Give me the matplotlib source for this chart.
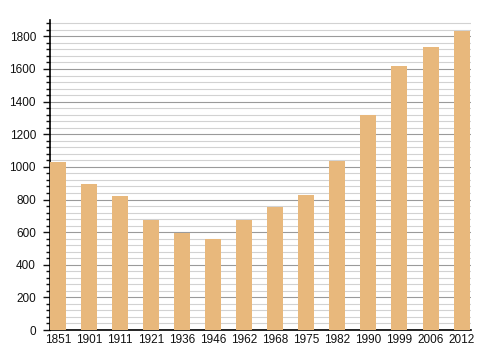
import matplotlib
matplotlib.use("Agg")
import matplotlib.pyplot as plt
from matplotlib.ticker import MultipleLocator

years = ["1851", "1901", "1911", "1921", "1936", "1946", "1962", "1968", "1975", "1982", "1990", "1999", "2006", "2012"]
population = [1028, 892, 824, 676, 592, 558, 676, 757, 830, 1034, 1320, 1616, 1732, 1830]

plt.rcParams['font.family'] = ['Liberation Sans', 'DejaVu Sans']

fig = plt.figure(figsize=(4.8, 3.6), dpi=100)
ax = fig.add_axes([0.104, 0.0833, 0.877, 0.861])

x = list(range(len(years)))
ax.bar(x, population, width=0.515, color='#e8b87c', zorder=3)

ax.set_xlim(-0.26, 13.3)
ax.set_ylim(0, 1900)
ax.yaxis.set_major_locator(MultipleLocator(200))
ax.yaxis.set_minor_locator(MultipleLocator(40))
ax.grid(axis='y', which='major', color='#9a9a9a', linewidth=0.8, zorder=0)
ax.grid(axis='y', which='minor', color='#d2d2d2', linewidth=0.8, zorder=0)
ax.set_axisbelow(True)

ax.set_xticks(x)
ax.set_xticklabels(years)
ax.tick_params(axis='x', length=0, labelsize=8.5, pad=3, colors='#111111')
ax.tick_params(axis='y', which='major', length=5, width=1, labelsize=8.5, direction='out', pad=5, colors='#111111')
ax.tick_params(axis='y', which='minor', length=3, width=1, direction='out', colors='#111111')

for s in ['top', 'right']:
    ax.spines[s].set_visible(False)
ax.spines['left'].set_linewidth(1.2)
ax.spines['bottom'].set_linewidth(1.2)

fig.savefig('out.png', dpi=100)
